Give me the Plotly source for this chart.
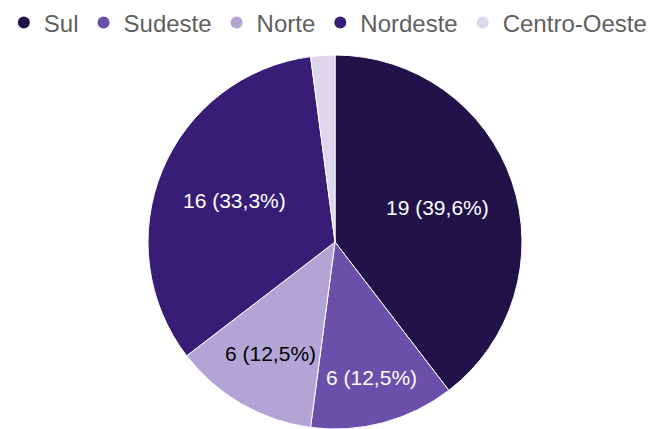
import math
import plotly.graph_objects as go

regions = ["Sul", "Sudeste", "Norte", "Nordeste", "Centro-Oeste"]
counts = [19, 6, 6, 16, 1]
colors = ["#21124a", "#6a4fab", "#b2a5d6", "#381d77", "#ddd6ec"]
label_colors = ["white", "white", "black", "white", "white"]
# radial position of each slice label, as a fraction of the radius
label_radius = [0.58, 0.75, 0.69, 0.58, 0.6]

total = sum(counts)
labels = []
for c in counts:
    pct = 100 * c / total
    labels.append("" if pct < 5 else f"{c} ({pct:.1f}%)".replace(".", ","))

W, H = 660, 429
M_L, M_R, M_T, M_B = 10, 0, 55, 0
plot_w, plot_h = W - M_L - M_R, H - M_T - M_B
radius_px = min(plot_w, plot_h) / 2

fig = go.Figure()
fig.add_trace(go.Pie(
    labels=regions,
    values=counts,
    textinfo="none",
    marker=dict(colors=colors, line=dict(color="white", width=1)),
    sort=False,
    direction="clockwise",
    rotation=0,
    showlegend=False,
    hoverinfo="label+value+percent",
))

# Slice labels placed along each slice's mid-angle (clockwise from 12 o'clock)
cum = 0
for c, txt, col, rf in zip(counts, labels, label_colors, label_radius):
    mid = 2 * math.pi * (cum + c / 2) / total
    cum += c
    if not txt:
        continue
    dx = rf * radius_px * math.sin(mid)
    dy = rf * radius_px * math.cos(mid)
    fig.add_annotation(
        x=0.5 + dx / plot_w, y=0.5 + dy / plot_h,
        xref="paper", yref="paper", text=txt, showarrow=False,
        xanchor="center", yanchor="middle",
        font=dict(family="Liberation Sans, Arial", size=21, color=col),
    )

# Legend entries with round markers
for name, col in zip(regions, colors):
    fig.add_trace(go.Scatter(
        x=[None], y=[None], mode="markers", name=name,
        marker=dict(symbol="circle", size=16, color=col),
    ))

fig.update_layout(
    width=W, height=H,
    margin=dict(l=M_L, r=M_R, t=M_T, b=M_B),
    paper_bgcolor="white",
    plot_bgcolor="white",
    xaxis=dict(visible=False),
    yaxis=dict(visible=False),
    legend=dict(
        orientation="h", x=0.489, xanchor="center", y=1.0856, yanchor="middle",
        font=dict(family="Liberation Sans, Arial", size=24, color="#5f5f5f"),
        itemsizing="constant",
    ),
)

fig.write_html("out.html")
